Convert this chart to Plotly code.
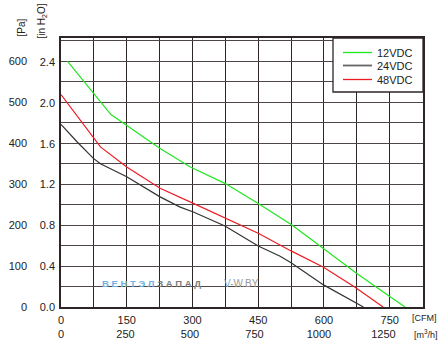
import plotly.graph_objects as go

# Fan performance curves: static pressure vs. airflow
flow_12v = [15, 74, 114, 226, 295, 374, 450, 527, 591, 675, 751, 785]
pres_12v = [600, 521, 470, 387, 342, 302, 253, 200, 149, 82, 25, 0]

flow_48v = [0, 74, 90, 150, 204, 226, 302, 375, 450, 525, 599, 671, 735]
pres_48v = [519, 414, 391, 342, 306, 290, 253, 216, 180, 137, 97, 48, 0]

flow_24v = [0, 37, 74, 90, 150, 226, 272, 302, 374, 450, 500, 525, 599, 690]
pres_24v = [446, 403, 363, 350, 318, 269, 244, 232, 198, 149, 124, 108, 54, 0]

series_names = ["12VDC", "24VDC", "48VDC"]
series_colors = ["#1fe81f", "#333333", "#ee1c24"]
legend_colors = ["#1fe81f", "#666666", "#ee1c24"]

cfm_ticks = [0, 150, 300, 450, 600, 750]
m3h_ticks = [0, 250, 500, 750, 1000, 1250]
pa_ticks = [0, 100, 200, 300, 400, 500, 600]
inh2o_ticks = [0.0, 0.4, 0.8, 1.2, 1.6, 2.0, 2.4]

CFM_MAX = 826
PA_MAX = 657
CFM_TO_M3H = 1.699
PA_PER_INH2O = 249.089

W, H = 448, 346
ML, MR, MT, MB = 61, 25, 38, 39
PW, PH = W - ML - MR, H - MT - MB


def px(xp):
    return (xp - ML) / PW


def py(yp):
    return (H - MB - yp) / PH


font_family = "Liberation Sans, Arial, sans-serif"
grid_col = "#2e2626"
txt_col = "#222222"

fig = go.Figure()
fig.add_trace(go.Scatter(x=flow_12v, y=pres_12v, mode="lines", name=series_names[0],
                         line=dict(color=series_colors[0], width=1.2)))
fig.add_trace(go.Scatter(x=flow_24v, y=pres_24v, mode="lines", name=series_names[1],
                         line=dict(color=series_colors[1], width=1.2)))
fig.add_trace(go.Scatter(x=flow_48v, y=pres_48v, mode="lines", name=series_names[2],
                         line=dict(color=series_colors[2], width=1.2)))

# invisible traces that bind the secondary unit axes
fig.add_trace(go.Scatter(x=[0, CFM_MAX * CFM_TO_M3H], y=[0, 0], xaxis="x2", yaxis="y",
                         mode="lines", line=dict(width=0), showlegend=False, hoverinfo="skip"))
fig.add_trace(go.Scatter(x=[0, 0], y=[0, PA_MAX / PA_PER_INH2O], xaxis="x", yaxis="y2",
                         mode="lines", line=dict(width=0), showlegend=False, hoverinfo="skip"))

tick_font = dict(family=font_family, size=11, color=txt_col)

fig.update_layout(
    width=W, height=H,
    margin=dict(l=ML, r=MR, t=MT, b=MB, autoexpand=False),
    paper_bgcolor="white", plot_bgcolor="white",
    font=dict(family=font_family, size=11, color=txt_col),
    showlegend=False,
    xaxis=dict(
        range=[0, CFM_MAX], tickvals=cfm_ticks, ticktext=[str(v) for v in cfm_ticks],
        showgrid=False, zeroline=False, ticks="", tickfont=tick_font, ticklabelstandoff=2,
        showline=True, mirror=True, linecolor=grid_col, linewidth=1.5, automargin=False,
        minor=dict(dtick=75, tick0=0, showgrid=True, gridcolor=grid_col, gridwidth=1.4),
    ),
    xaxis2=dict(
        range=[0, CFM_MAX * CFM_TO_M3H], overlaying="x", side="bottom", anchor="y",
        tickvals=m3h_ticks, ticktext=[str(v) for v in m3h_ticks],
        showgrid=False, zeroline=False, ticks="", tickfont=tick_font, ticklabelstandoff=19,
        showline=False, automargin=False,
    ),
    yaxis=dict(
        range=[0, PA_MAX], tickvals=pa_ticks, ticktext=[str(v) for v in pa_ticks],
        showgrid=False, zeroline=False, ticks="", tickfont=tick_font, ticklabelstandoff=30,
        showline=True, mirror=True, linecolor=grid_col, linewidth=1.5, automargin=False,
        minor=dict(dtick=50, tick0=0, showgrid=True, gridcolor="#4e4646", gridwidth=1.4),
    ),
    yaxis2=dict(
        range=[0, PA_MAX / PA_PER_INH2O], overlaying="y", side="left", anchor="x",
        tickvals=inh2o_ticks, ticktext=[f"{v:.1f}" for v in inh2o_ticks],
        showgrid=False, zeroline=False, ticks="", tickfont=tick_font, ticklabelstandoff=5,
        showline=False, automargin=False,
    ),
)

# legend box drawn in the upper-right corner
fig.add_shape(type="rect", xref="paper", yref="paper",
              x0=px(333), x1=px(423), y0=py(92), y1=py(38),
              fillcolor="white", line=dict(color=grid_col, width=1.3), layer="above")
for i, (name, col) in enumerate(zip(series_names, legend_colors)):
    yrow = [52.5, 65.5, 79.5][i]
    fig.add_shape(type="line", xref="paper", yref="paper",
                  x0=px(343), x1=px(372), y0=py(yrow), y1=py(yrow),
                  line=dict(color=col, width=1.3 if i != 1 else 1.8), layer="above")
    fig.add_annotation(text=name, xref="paper", yref="paper", x=px(375), y=py(yrow),
                       xanchor="left", yanchor="middle", showarrow=False,
                       font=dict(family=font_family, size=11, color=txt_col))

# unit labels
fig.add_annotation(text="[CFM]", xref="paper", yref="paper", x=px(410), y=py(318),
                   xanchor="left", yanchor="middle", showarrow=False,
                   font=dict(family=font_family, size=9, color=txt_col))
fig.add_annotation(text="[m<sup>3</sup>/h]", xref="paper", yref="paper", x=px(412), y=py(334),
                   xanchor="left", yanchor="middle", showarrow=False,
                   font=dict(family=font_family, size=9, color=txt_col))
fig.add_annotation(text="[Pa]", xref="paper", yref="paper", x=px(20.5), y=py(28),
                   textangle=-90, xanchor="center", yanchor="middle", showarrow=False,
                   font=dict(family=font_family, size=10, color=txt_col))
fig.add_annotation(text="[in H<sub>2</sub>O]", xref="paper", yref="paper", x=px(41.5), y=py(21),
                   textangle=-90, xanchor="center", yanchor="middle", showarrow=False,
                   font=dict(family=font_family, size=10, color=txt_col))

# watermark
fig.add_annotation(
    text="<b><span style='color:#6fb3e3'>В Е Н Т Э Л</span> <span style='color:#7a7a7a'>З А П А Д</span></b>",
    xref="paper", yref="paper", x=px(100), y=py(283), xanchor="left", yanchor="middle",
    showarrow=False, font=dict(family=font_family, size=9.5))
fig.add_annotation(
    text="<span style='color:#6fb3e3'>V</span><span style='color:#9a9a9a'>-W.BY</span>",
    xref="paper", yref="paper", x=px(222), y=py(283), xanchor="left", yanchor="middle",
    showarrow=False, font=dict(family=font_family, size=10))

fig.write_html("out.html")
